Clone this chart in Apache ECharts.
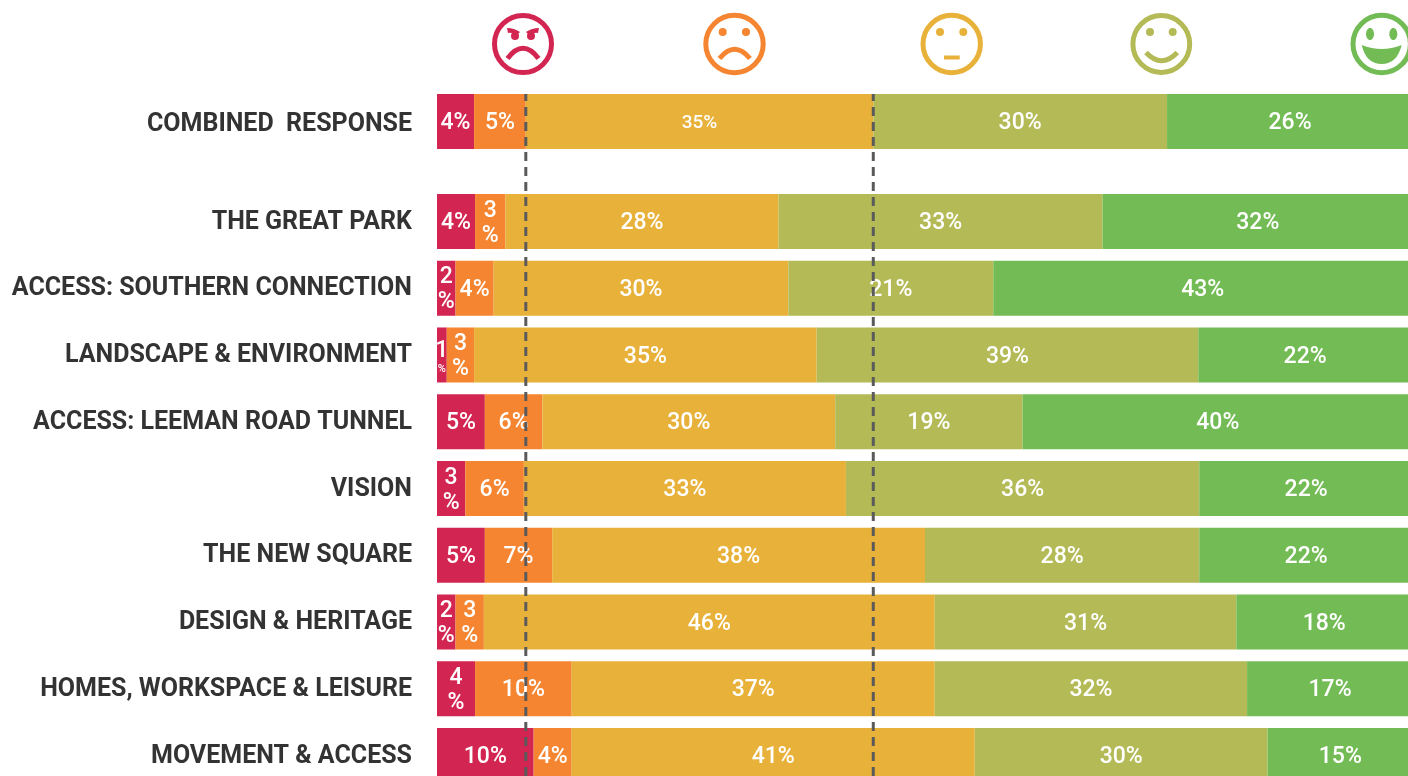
<!DOCTYPE html>
<html>
<head>
<meta charset="utf-8">
<style>html,body{margin:0;padding:0;background:#fff;overflow:hidden}#c{width:1408px;height:776px}</style>
<script src="https://cdn.jsdelivr.net/npm/echarts@6/dist/echarts.min.js"></script>
</head>
<body>
<div id="c"></div>
<script>
const categories = ['COMBINED  RESPONSE','THE GREAT PARK','ACCESS: SOUTHERN CONNECTION','LANDSCAPE & ENVIRONMENT','ACCESS: LEEMAN ROAD TUNNEL','VISION','THE NEW SQUARE','DESIGN & HERITAGE','HOMES, WORKSPACE & LEISURE','MOVEMENT & ACCESS'];
const veryUnhappy = [3.8,3.9,1.9,1.0,4.9,2.9,4.9,1.9,3.9,9.9];
const unhappy     = [5.3,3.1,3.9,2.8,5.9,6.0,6.9,2.9,9.9,3.9];
const neutral     = [35.6,28.0,30.2,35.1,30.0,33.0,38.2,46.2,37.2,41.3];
const happy       = [30.1,33.2,21.0,39.1,19.2,36.2,28.1,30.9,32.0,30.0];
const veryHappy   = [25.2,31.9,42.9,21.9,40.0,21.9,21.9,18.0,17.0,14.9];
const veryUnhappyLabels = ['4%','4%','2\n%','{s|1}\n{t|%}','5%','3\n%','5%','2\n%','4\n%','10%'];
const unhappyLabels     = ['5%','3\n%','4%','3\n%','6%','6%','7%','3\n%','10%','4%'];
const neutralLabels     = ['35%','28%','30%','35%','30%','33%','38%','46%','37%','41%'];
const happyLabels       = ['30%','33%','21%','39%','19%','36%','28%','31%','32%','30%'];
const veryHappyLabels   = ['26%','32%','43%','22%','40%','22%','22%','18%','17%','15%'];
const thresholds = [9.1,44.7];

const FONT = 'Roboto';
const colors = ['#D32551','#F58530','#E8B13A','#B3BA56','#73BC55'];
const groups = [
  [veryUnhappy,veryUnhappyLabels],[unhappy,unhappyLabels],[neutral,neutralLabels],[happy,happyLabels],[veryHappy,veryHappyLabels]
];
const series = [];
groups.forEach(([vals,labs],i)=>{
  [[0,1,'a'],[1,10,'b']].forEach(([from,to,st],g)=>{
    series.push({
      type:'bar',stack:st,xAxisIndex:g,yAxisIndex:g,barWidth:55,
      itemStyle:{color:colors[i]},
      data:vals.slice(from,to).map((v,k)=>{
        const item={value:v,_l:labs[from+k]};
        if(from===0&&i===2) item.label={fontSize:19};
        return item;
      }),
      label:{show:true,position:'inside',color:'#fff',fontFamily:FONT,fontWeight:500,fontSize:23,lineHeight:25,
        formatter:p=>p.data._l,
        rich:{s:{color:'#fff',fontFamily:FONT,fontWeight:500,fontSize:23,lineHeight:24},t:{color:'#fff',fontFamily:FONT,fontSize:11,lineHeight:12}}},
      labelLayout:{dy:2,hideOverlap:false}
    });
  });
});
thresholds.forEach(t=>{
  series.push({type:'line',xAxisIndex:2,yAxisIndex:2,symbol:'none',silent:true,z:10,
    data:[[t,0],[t,1]],lineStyle:{color:'#5a5a5a',width:3,type:[9,6]}});
});
const catAxis=(g,from,to,pad)=>({type:'category',gridIndex:g,inverse:true,data:categories.slice(from,to),
  axisLine:{show:false},axisTick:{show:false},splitLine:{show:false},
  axisLabel:{margin:25,interval:0,formatter:v=>'{a|'+v+'}',
    rich:{a:{color:'#333',fontFamily:FONT,fontWeight:700,fontSize:25,padding:[pad,0,0,0]}}}});
const valAxis=g=>({type:'value',gridIndex:g,min:0,max:100,show:false});

let pathId=0;
function face(color,children){return {type:'group',children:children.map(c=>{
  const st=c.fill?{fill:color,stroke:null}:{fill:null,stroke:color,lineWidth:c.w||5,lineCap:'butt'};
  if(c.circle) return {type:'circle',shape:{cx:c.circle[0],cy:c.circle[1],r:c.circle[2]},style:st};
  if(c.ell) return {type:'ellipse',shape:{cx:c.ell[0],cy:c.ell[1],rx:c.ell[2],ry:c.ell[3]},style:st};
  const name='facePath'+(pathId++);
  echarts.graphic.registerShape(name,echarts.graphic.extendPath(c.d));
  return {type:name,style:st};
})};}
const graphic=[
  face(colors[0],[{circle:[523,44,28.5],w:5},{circle:[515,36,4],fill:1},{circle:[531,36,4],fill:1},
    {d:'M507 28 Q514 28 520 32 L517 35 Q511 32 508 33 Z',fill:1},{d:'M539 28 Q532 28 526 32 L529 35 Q535 32 538 33 Z',fill:1},
    {d:'M507.5 58.5 Q523 38 538.5 58.5'}]),
  face(colors[1],[{circle:[734.5,44,28.7],w:5},{circle:[722.7,32,4],fill:1},{circle:[746,32,4],fill:1},
    {d:'M719.5 58.5 Q734.5 40 750 58.5'}]),
  face(colors[2],[{circle:[951.7,44,28.7],w:5},{circle:[940,32,4],fill:1},{circle:[963.3,32,4],fill:1},
    {d:'M944 57.5 L959.7 57.5',w:4}]),
  face(colors[3],[{circle:[1161.3,44,28.4],w:5},{circle:[1150,32,4],fill:1},{circle:[1172.7,32,4],fill:1},
    {d:'M1146 52.5 Q1161.5 69 1177.3 52.5'}]),
  face(colors[4],[{circle:[1381.7,44,28.7],w:5},{ell:[1370,34,4,6],fill:1},{ell:[1393.3,34,4,6],fill:1},
    {d:'M1361.7 45 Q1381.7 53 1401.7 45 Q1397 64 1381.7 64 Q1366 64 1361.7 45 Z',fill:1}])
];

const chart=echarts.init(document.getElementById('c'),null,{renderer:'canvas'});
chart.setOption({
  animation:false,
  backgroundColor:'#fff',
  tooltip:{show:false},legend:{show:false},
  grid:[
    {left:437,top:88.1,width:976,height:66.75,outerBoundsMode:'none'},
    {left:437,top:188.1,width:976,height:600.75,outerBoundsMode:'none'},
    {left:437,top:94,width:976,height:682,outerBoundsMode:'none'}
  ],
  yAxis:[catAxis(0,0,1,6),catAxis(1,1,10,2),{type:'value',gridIndex:2,min:0,max:1,show:false}],
  xAxis:[valAxis(0),valAxis(1),valAxis(2)],
  series,
  graphic
});
</script>
</body>
</html>
